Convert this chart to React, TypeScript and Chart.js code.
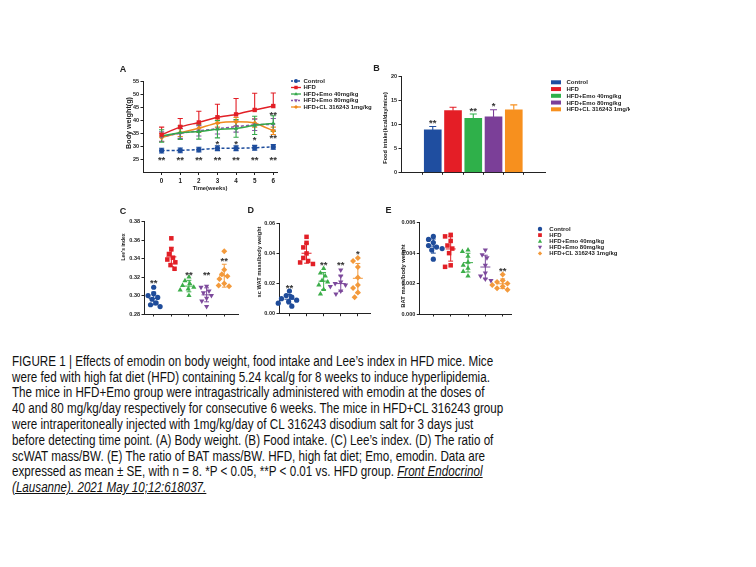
import React, { useEffect, useLayoutEffect, useRef, useState } from 'react';
import { Chart, registerables } from 'chart.js';
Chart.register(...registerables);

const FONT = '"Liberation Sans", Arial, Helvetica, sans-serif';
const INK = '#222222';
const STAR = '#333333';

// ---------- shared groups ----------
const groupNames = ['Control', 'HFD', 'HFD+Emo 40mg/kg', 'HFD+Emo 80mg/kg', 'HFD+CL 316243 1mg/kg'];
const lineColors = ['#1d4c9c', '#e21f26', '#33a84a', '#8a55a8', '#f08a1e'];
const barColors = ['#1f4ea0', '#e41e26', '#2fb04a', '#7b3f98', '#f7901e'];
const dotColors = ['#1f4c9a', '#e21f26', '#3cae4a', '#7d4a9c', '#f39a3c'];
const shapes = ['circle', 'rect', 'triangle', 'triangleDown', 'rectRot'];

// ---------- Panel A: body weight ----------
const weeks = [0, 1, 2, 3, 4, 5, 6];
const bwControl = [28.4, 28.5, 28.8, 29.3, 29.3, 29.5, 29.8];
const bwControlErr = [0.9, 0.9, 0.9, 0.9, 0.9, 0.9, 0.9];
const bwHFD = [34.5, 37.5, 39.2, 41.2, 42.3, 44.0, 45.5];
const bwHFDErr = [2.9, 3.2, 4.3, 5.0, 6.1, 6.4, 5.0];
const bwEmo40 = [34.0, 35.3, 35.7, 36.6, 36.9, 38.1, 38.8];
const bwEmo40Err = [2.4, 2.6, 2.9, 3.3, 3.4, 3.5, 3.0];
const bwEmo80 = [33.8, 35.0, 36.0, 36.8, 37.6, 38.3, 38.5];
const bwEmo80Err = [1.8, 1.9, 2.0, 2.0, 2.1, 2.2, 2.2];
const bwCL = [33.4, 35.3, 37.0, 39.0, 39.5, 39.0, 36.0];
const bwCLErr = [1.5, 1.5, 1.6, 1.6, 1.6, 1.6, 1.4];
const bwStarX = [0, 1, 2, 3, 4, 5, 6, 3, 4, 5, 6, 6];
const bwStarY = [25.8, 25.8, 25.8, 25.8, 25.8, 25.8, 25.8, 32.0, 32.0, 33.3, 43.0, 34.2];
const bwStarText = ['**', '**', '**', '**', '**', '**', '**', '*', '*', '*', '**', '**'];
const bwYTicks = [25, 30, 35, 40, 45, 50, 55];

// ---------- Panel B: food intake ----------
const fiMean = [8.8, 12.8, 11.2, 11.5, 13.0];
const fiErr = [0.7, 0.7, 0.9, 1.5, 1.0];
const fiStars = ['**', '', '**', '*', ''];
const fiYTicks = [0, 5, 10, 15, 20];

// ---------- Panel C: Lee's index ----------
const leeControl = [0.309, 0.302, 0.300, 0.298, 0.296, 0.292, 0.290, 0.288];
const leeHFD = [0.362, 0.350, 0.345, 0.341, 0.339, 0.336, 0.333, 0.329];
const leeEmo40 = [0.320, 0.316, 0.313, 0.311, 0.309, 0.307, 0.306, 0.300];
const leeEmo80 = [0.310, 0.309, 0.305, 0.303, 0.300, 0.297, 0.294, 0.288];
const leeCL = [0.348, 0.328, 0.323, 0.321, 0.318, 0.313, 0.311, 0.310];
const leeStars = ['**', '', '**', '**', '**'];
const leeStarY = [0.316, 0, 0.325, 0.325, 0.340];
const leeYTicks = [0.28, 0.30, 0.32, 0.34, 0.36, 0.38];

// ---------- Panel D: scWAT ----------
const watControl = [0.015, 0.012, 0.011, 0.010, 0.009, 0.008, 0.007, 0.005];
const watHFD = [0.051, 0.047, 0.044, 0.040, 0.037, 0.035, 0.034, 0.033];
const watEmo40 = [0.030, 0.027, 0.025, 0.022, 0.021, 0.019, 0.016, 0.013];
const watEmo80 = [0.029, 0.025, 0.021, 0.020, 0.019, 0.018, 0.015, 0.013];
const watCL = [0.037, 0.035, 0.031, 0.024, 0.019, 0.017, 0.014, 0.011];
const watStars = ['**', '', '**', '**', '*'];
const watStarY = [0.019, 0, 0.034, 0.034, 0.041];
const watYTicks = [0, 0.02, 0.04, 0.06];

// ---------- Panel E: BAT ----------
const batControl = [0.0051, 0.0049, 0.0047, 0.0045, 0.0044, 0.0043, 0.0042, 0.0036];
const batHFD = [0.0052, 0.0051, 0.0048, 0.0045, 0.0043, 0.0040, 0.0032, 0.0031];
const batEmo40 = [0.0042, 0.0041, 0.0038, 0.0034, 0.0032, 0.0030, 0.0028, 0.0025];
const batEmo80 = [0.0042, 0.0039, 0.0037, 0.0032, 0.0027, 0.0025, 0.0023, 0.0022];
const batCL = [0.0026, 0.0022, 0.0021, 0.0020, 0.0019, 0.0018, 0.0017, 0.0016];
const batStars = ['', '', '', '', '**'];
const batStarY = [0, 0, 0, 0, 0.0030];
const batYTicks = [0, 0.002, 0.004, 0.006];

const captionLines = [
  'FIGURE 1 | Effects of emodin on body weight, food intake and Lee\u2019s index in HFD mice. Mice',
  'were fed with high fat diet (HFD) containing 5.24 kcal/g for 8 weeks to induce hyperlipidemia.',
  'The mice in HFD+Emo group were intragastrically administered with emodin at the doses of',
  '40 and 80 mg/kg/day respectively for consecutive 6 weeks. The mice in HFD+CL 316243 group',
  'were intraperitoneally injected with 1mg/kg/day of CL 316243 disodium salt for 3 days just',
  'before detecting time point. (A) Body weight. (B) Food intake. (C) Lee\u2019s index. (D) The ratio of',
  'scWAT mass/BW. (E) The ratio of BAT mass/BW. HFD, high fat diet; Emo, emodin. Data are',
  'expressed as mean \u00b1 SE, with n = 8. *P < 0.05, **P < 0.01 vs. HFD group. ',
];
const captionLink1 = 'Front Endocrinol';
const captionLink2 = '(Lausanne). 2021 May 10;12:618037.';

// ---------- helpers ----------
type Box = { cl: number; ct: number; cw: number; ch: number; l: number; t: number; r: number; b: number; tx: number; ty: number; ts: number };

const mean = (a: number[]) => a.reduce((s, v) => s + v, 0) / a.length;
const sd = (a: number[]) => { const m = mean(a); return Math.sqrt(a.reduce((s, v) => s + (v - m) * (v - m), 0) / (a.length - 1)); };

function drawMarker(ctx: CanvasRenderingContext2D, shape: string, x: number, y: number, r: number, color: string) {
  ctx.save();
  ctx.fillStyle = color;
  ctx.beginPath();
  if (shape === 'circle') ctx.arc(x, y, r, 0, Math.PI * 2);
  else if (shape === 'rect') { const s = r * 0.85; ctx.rect(x - s, y - s, 2 * s, 2 * s); }
  else if (shape === 'triangle') { ctx.moveTo(x, y - r); ctx.lineTo(x + r * 0.95, y + r * 0.65); ctx.lineTo(x - r * 0.95, y + r * 0.65); ctx.closePath(); }
  else if (shape === 'triangleDown') { ctx.moveTo(x, y + r); ctx.lineTo(x + r * 0.95, y - r * 0.65); ctx.lineTo(x - r * 0.95, y - r * 0.65); ctx.closePath(); }
  else { ctx.moveTo(x, y - r); ctx.lineTo(x + r, y); ctx.lineTo(x, y + r); ctx.lineTo(x - r, y); ctx.closePath(); }
  ctx.fill();
  ctx.restore();
}

const Y_W = 20;

function yScale(min: number, max: number, ticks: number[], digits: number, size = 5.5) {
  return {
    type: 'linear', min, max,
    afterBuildTicks: (ax: any) => { ax.ticks = ticks.map((v) => ({ value: v })); },
    afterFit: (ax: any) => { ax.width = Y_W; },
    grid: { drawOnChartArea: false, drawTicks: true, tickLength: 2.5, color: INK, lineWidth: 1 },
    border: { display: true, color: INK, width: 1 },
    ticks: { autoSkip: false, callback: (v: number) => v.toFixed(digits), font: { family: FONT, size, weight: 'bold' }, color: INK, padding: 1.5 },
    title: { display: false },
  };
}

function xScale(min: number, max: number, ticks: number[], labels: boolean, title: string, height: number, size = 6.3) {
  return {
    type: 'linear', min, max,
    afterBuildTicks: (ax: any) => { ax.ticks = ticks.map((v) => ({ value: v })); },
    afterFit: (ax: any) => { ax.height = height; },
    grid: { drawOnChartArea: false, drawTicks: true, tickLength: 2.5, color: INK, lineWidth: 1 },
    border: { display: true, color: INK, width: 1 },
    ticks: { autoSkip: false, maxRotation: 0, callback: (v: number) => (labels ? String(v) : ''), font: { family: FONT, size, weight: 'bold' }, color: INK, padding: 2 },
    title: { display: !!title, text: title, font: { family: FONT, size: 5.8, weight: 'bold' }, color: INK, padding: 0 },
  };
}

function paddingFor(bx: Box, xH: number) {
  return { left: bx.l - bx.cl - Y_W, top: bx.t - bx.ct, right: bx.cl + bx.cw - bx.r, bottom: bx.ct + bx.ch - (bx.b + xH) };
}

function yTitlePlugin(bx: Box, text: string) {
  return {
    id: 'yTitle',
    afterDraw(chart: any) {
      const ctx: CanvasRenderingContext2D = chart.ctx;
      ctx.save();
      ctx.translate(bx.tx - bx.cl, bx.ty - bx.ct);
      ctx.rotate(-Math.PI / 2);
      ctx.fillStyle = INK;
      ctx.font = `bold ${bx.ts}px ${FONT}`;
      ctx.textAlign = 'center';
      ctx.textBaseline = 'middle';
      ctx.fillText(text, 0, 0);
      ctx.restore();
    },
  };
}

function starPlugin(xs: number[], ys: number[], texts: string[], size = 9.5) {
  return {
    id: 'stars',
    afterDatasetsDraw(chart: any) {
      const { ctx, scales: { x, y } } = chart;
      ctx.save();
      ctx.fillStyle = STAR;
      ctx.font = `bold ${size}px ${FONT}`;
      ctx.textAlign = 'center';
      ctx.textBaseline = 'middle';
      texts.forEach((t, i) => { if (t) ctx.fillText(t, x.getPixelForValue(xs[i]), y.getPixelForValue(ys[i]) + size * 0.3); });
      ctx.restore();
    },
  };
}

function legendPlugin(offX: number, offY: number, kind: string, items: { label: string; color: string; shape: string; dashed?: boolean }[], mx: number, tx: number, y0: number, dy: number) {
  return {
    id: 'customLegend',
    afterDraw(chart: any) {
      const ctx: CanvasRenderingContext2D = chart.ctx;
      ctx.save();
      items.forEach((it, i) => {
        const y = y0 + i * dy - offY;
        const x = mx - offX;
        if (kind === 'line') {
          ctx.strokeStyle = it.color; ctx.lineWidth = 1.3;
          ctx.setLineDash(it.dashed ? [2, 1.5] : []);
          ctx.beginPath(); ctx.moveTo(x - 5, y); ctx.lineTo(x + 5, y); ctx.stroke();
          ctx.setLineDash([]);
          drawMarker(ctx, it.shape, x, y, 2.0, it.color);
        } else if (kind === 'box') {
          ctx.fillStyle = it.color; ctx.fillRect(x - 5, y - 2, 10, 4);
        } else {
          drawMarker(ctx, it.shape, x, y, 2.2, it.color);
        }
        ctx.fillStyle = INK;
        ctx.font = `bold 6px ${FONT}`;
        ctx.textAlign = 'left';
        ctx.textBaseline = 'middle';
        ctx.fillText(it.label, tx - offX, y + 0.3);
      });
      ctx.restore();
    },
  };
}

function errPluginA(series: { ys: number[]; up: number[] | null; down: number[] | null; color: string }[]) {
  return {
    id: 'errA',
    beforeDatasetsDraw(chart: any) {
      const { ctx, scales: { x, y } } = chart;
      ctx.save(); ctx.lineWidth = 1.1;
      series.forEach((s) => {
        ctx.strokeStyle = s.color;
        weeks.forEach((w, i) => {
          const px = x.getPixelForValue(w), py = y.getPixelForValue(s.ys[i]);
          const seg = (v: number) => { const pe = y.getPixelForValue(v); ctx.beginPath(); ctx.moveTo(px, py); ctx.lineTo(px, pe); ctx.moveTo(px - 2.6, pe); ctx.lineTo(px + 2.6, pe); ctx.stroke(); };
          if (s.up) seg(s.ys[i] + s.up[i]);
          if (s.down) seg(s.ys[i] - s.down[i]);
        });
      });
      ctx.restore();
    },
  };
}

function barErrPlugin(vals: number[], errs: number[], colors: string[]) {
  return {
    id: 'barErr',
    afterDatasetsDraw(chart: any) {
      const { ctx, scales: { x, y } } = chart;
      ctx.save(); ctx.lineWidth = 1.1;
      vals.forEach((v, i) => {
        const px = x.getPixelForValue(i), py = y.getPixelForValue(v), pe = y.getPixelForValue(v + errs[i]);
        ctx.strokeStyle = colors[i];
        ctx.beginPath(); ctx.moveTo(px, py); ctx.lineTo(px, pe); ctx.moveTo(px - 3.5, pe); ctx.lineTo(px + 3.5, pe); ctx.stroke();
      });
      ctx.restore();
    },
  };
}

function statPlugin(groups: number[][], colors: string[]) {
  return {
    id: 'stat',
    afterDatasetsDraw(chart: any) {
      const { ctx, scales: { x, y } } = chart;
      ctx.save(); ctx.lineWidth = 1;
      groups.forEach((g, i) => {
        const m = mean(g), s = sd(g);
        const cx = x.getPixelForValue(i);
        const pm = y.getPixelForValue(m), pu = y.getPixelForValue(m + s), pd = y.getPixelForValue(m - s);
        ctx.strokeStyle = colors[i];
        ctx.beginPath();
        ctx.moveTo(cx - 5, pm); ctx.lineTo(cx + 5, pm);
        ctx.moveTo(cx, pu); ctx.lineTo(cx, pd);
        ctx.moveTo(cx - 2.4, pu); ctx.lineTo(cx + 2.4, pu);
        ctx.moveTo(cx - 2.4, pd); ctx.lineTo(cx + 2.4, pd);
        ctx.stroke();
      });
      ctx.restore();
    },
  };
}

// beeswarm layout of the points of one group, in x-axis units
function swarm(values: number[], yppu: number, xppu: number, r: number): number[] {
  const order = values.map((_, i) => i).sort((a, b) => values[b] - values[a]);
  const placed: { x: number; y: number }[] = [];
  const res = values.map(() => 0);
  order.forEach((i) => {
    const py = values[i] * yppu;
    let chosen = 0;
    for (let k = 0; k < 40; k++) {
      const off = k === 0 ? 0 : (k % 2 === 1 ? -1 : 1) * Math.ceil(k / 2) * 0.8;
      if (placed.every((p) => Math.hypot(p.x - off, p.y - py) >= 2 * r)) { chosen = off; break; }
    }
    placed.push({ x: chosen, y: py });
    res[i] = chosen / xppu;
  });
  return res;
}

const BOX_A: Box = { cl: 100, ct: 60, cw: 280, ch: 140, l: 143, t: 81.3, r: 277, b: 172.5, tx: 129, ty: 123, ts: 7.2 };
const BOX_B: Box = { cl: 360, ct: 60, cw: 270, ch: 140, l: 401, t: 76, r: 545, b: 172.3, tx: 385, ty: 128, ts: 5.6 };
const BOX_C: Box = { cl: 100, ct: 200, cw: 150, ch: 130, l: 144, t: 221.7, r: 238, b: 314, tx: 123.3, ty: 247, ts: 5 };
const BOX_D: Box = { cl: 245, ct: 200, cw: 135, ch: 130, l: 279, t: 223.3, r: 370, b: 313.7, tx: 259.3, ty: 262, ts: 5.7 };
const BOX_E: Box = { cl: 370, ct: 200, cw: 386, ch: 130, l: 419.3, t: 222.7, r: 511, b: 314, tx: 403.5, ty: 276, ts: 5.8 };

function baseOptions(padding: any, scales: any) {
  return {
    responsive: false, animation: false, events: [],
    layout: { padding },
    plugins: { legend: { display: false }, tooltip: { enabled: false }, title: { display: false } },
    scales,
  };
}

function scatterChart(canvas: HTMLCanvasElement, bx: Box, groups: number[][], yMin: number, yMax: number, yTicks: number[], digits: number, title: string, xMin: number, xMax: number, stars: string[], starY: number[], extra: any[] = []) {
  const xH = 10;
  const yppu = (bx.b - bx.t) / (yMax - yMin);
  const xppu = (bx.r - bx.l) / (xMax - xMin);
  const datasets = groups.map((g, i) => {
    const offs = swarm(g, yppu, xppu, 2.6);
    return {
      data: g.map((v, j) => ({ x: i + offs[j], y: v })),
      pointStyle: shapes[i] === 'triangleDown' ? 'triangle' : shapes[i],
      pointRotation: shapes[i] === 'triangleDown' ? 180 : 0,
      pointRadius: shapes[i] === 'rect' ? 3.2 : shapes[i] === 'circle' ? 2.6 : 3.0,
      backgroundColor: dotColors[i],
      borderColor: dotColors[i],
      borderWidth: 0,
      clip: false,
    };
  });
  return new Chart(canvas, {
    type: 'scatter',
    data: { datasets },
    options: baseOptions(paddingFor(bx, xH), {
      x: xScale(xMin, xMax, [0, 1, 2, 3, 4], false, '', xH),
      y: yScale(yMin, yMax, yTicks, digits),
    }) as any,
    plugins: [statPlugin(groups, dotColors), starPlugin([0, 1, 2, 3, 4], starY, stars), yTitlePlugin(bx, title), ...extra],
  });
}

export default function App() {
  const refA = useRef<HTMLCanvasElement>(null);
  const refB = useRef<HTMLCanvasElement>(null);
  const refC = useRef<HTMLCanvasElement>(null);
  const refD = useRef<HTMLCanvasElement>(null);
  const refE = useRef<HTMLCanvasElement>(null);
  const capRef = useRef<HTMLDivElement>(null);
  const [capScale, setCapScale] = useState(1);

  useLayoutEffect(() => {
    const el = capRef.current;
    if (!el) return;
    const span = el.querySelector('span') as HTMLSpanElement;
    const w = span ? span.offsetWidth : 0;
    if (w > 0) setCapScale(481 / w);
  }, []);

  useEffect(() => {
    const charts: Chart[] = [];
    // ----- A -----
    {
      const bx = BOX_A;
      const xH = 188 + 3.5 - bx.b;
      const mk = (ys: number[], i: number, dashed: boolean) => ({
        data: weeks.map((w, j) => ({ x: w, y: ys[j] })),
        borderColor: lineColors[i], backgroundColor: lineColors[i],
        borderWidth: 1.5, borderDash: dashed ? [3, 2] : [],
        pointStyle: shapes[i] === 'triangleDown' ? 'triangle' : shapes[i],
        pointRotation: shapes[i] === 'triangleDown' ? 180 : 0,
        pointRadius: shapes[i] === 'rect' ? 3.1 : 2.6, pointBorderWidth: 0,
        tension: 0.15, clip: false,
      });
      charts.push(new Chart(refA.current as HTMLCanvasElement, {
        type: 'line',
        data: { datasets: [mk(bwHFD, 1, false), mk(bwControl, 0, true), mk(bwEmo40, 2, false), mk(bwEmo80, 3, true), mk(bwCL, 4, false)] as any },
        options: baseOptions(paddingFor(bx, xH), {
          x: xScale(-1, 6.2, weeks, true, 'Time(weeks)', xH, 6.3),
          y: yScale(20, 55, bwYTicks, 0, 5.5),
        }) as any,
        plugins: [
          errPluginA([
            { ys: bwHFD, up: bwHFDErr, down: null, color: lineColors[1] },
            { ys: bwControl, up: bwControlErr, down: bwControlErr, color: lineColors[0] },
            { ys: bwCL, up: bwCLErr, down: bwCLErr, color: lineColors[4] },
            { ys: bwEmo80, up: bwEmo80Err, down: bwEmo80Err, color: lineColors[3] },
            { ys: bwEmo40, up: bwEmo40Err, down: bwEmo40Err, color: lineColors[2] },
          ]),
          starPlugin(bwStarX, bwStarY, bwStarText),
          yTitlePlugin(bx, 'Body weight(g)'),
          legendPlugin(bx.cl, bx.ct, 'line', groupNames.map((g, i) => ({ label: g, color: lineColors[i], shape: shapes[i], dashed: i === 0 || i === 3 })), 296, 303.5, 81, 6.5),
        ],
      }));
    }
    // ----- B -----
    {
      const bx = BOX_B;
      const xH = 10;
      charts.push(new Chart(refB.current as HTMLCanvasElement, {
        type: 'bar',
        data: { datasets: [{ data: fiMean.map((v, i) => ({ x: i, y: v })), backgroundColor: barColors, borderWidth: 0, barThickness: 17 }] as any },
        options: baseOptions(paddingFor(bx, xH), {
          x: xScale(-0.857, 4.83, [0, 1, 2, 3, 4], false, '', xH),
          y: yScale(0, 20, fiYTicks, 0, 5.5),
        }) as any,
        plugins: [
          barErrPlugin(fiMean, fiErr, barColors),
          starPlugin([0, 1, 2, 3, 4], fiMean.map((v, i) => v + fiErr[i] + 1.2), fiStars),
          yTitlePlugin(bx, 'Food intake(kcal/day/mice)'),
          legendPlugin(bx.cl, bx.ct, 'box', groupNames.map((g, i) => ({ label: g, color: barColors[i], shape: 'box' })), 556, 566.5, 82.3, 6.75),
        ],
      }));
    }
    // ----- C, D, E -----
    charts.push(scatterChart(refC.current as HTMLCanvasElement, BOX_C, [leeControl, leeHFD, leeEmo40, leeEmo80, leeCL], 0.28, 0.38, leeYTicks, 2, "Lee's index", -0.55, 4.78, leeStars, leeStarY));
    charts.push(scatterChart(refD.current as HTMLCanvasElement, BOX_D, [watControl, watHFD, watEmo40, watEmo80, watCL], 0, 0.06, watYTicks, 2, 'sc WAT mass/body weight', -0.61, 4.71, watStars, watStarY));
    const legE = legendPlugin(BOX_E.cl, BOX_E.ct, 'marker', groupNames.map((g, i) => ({ label: g, color: dotColors[i], shape: shapes[i] })), 540, 549.3, 229, 6.1);
    charts.push(scatterChart(refE.current as HTMLCanvasElement, BOX_E, [batControl, batHFD, batEmo40, batEmo80, batCL], 0, 0.006, batYTicks, 3, 'BAT mass/body weight', -0.81, 4.48, batStars, batStarY, [legE]));
    return () => charts.forEach((c) => c.destroy());
  }, []);

  const cv = (ref: any, bx: Box) => (
    <canvas ref={ref} width={bx.cw} height={bx.ch} style={{ position: 'absolute', left: bx.cl, top: bx.ct, width: bx.cw, height: bx.ch }} />
  );
  const label = (t: string, x: number, y: number) => (
    <div style={{ position: 'absolute', left: x - 3.5, top: y - 5.5, font: `bold 9px ${FONT}`, lineHeight: '10px', color: INK }}>{t}</div>
  );

  return (
    <div style={{ position: 'fixed', left: 0, top: 0, width: 756, height: 567, background: '#fff', overflow: 'hidden' }}>
      {cv(refA, BOX_A)}
      {cv(refB, BOX_B)}
      {cv(refC, BOX_C)}
      {cv(refD, BOX_D)}
      {cv(refE, BOX_E)}
      {label('A', 123.3, 69.3)}
      {label('B', 376.7, 68.3)}
      {label('C', 123.3, 211.7)}
      {label('D', 251, 210.7)}
      {label('E', 389, 210.7)}
      <div ref={capRef} style={{ position: 'absolute', left: 12, top: 353.8, fontFamily: '"Liberation Sans Narrow", "Arial Narrow", "Liberation Sans", Arial, sans-serif', fontSize: 14, lineHeight: '15.8px', color: '#111', transform: `scaleX(${capScale})`, transformOrigin: '0 0', whiteSpace: 'nowrap' }}>
        {captionLines.map((l, i) => (
          <div key={i}>
            <span>{l}</span>
            {i === captionLines.length - 1 ? <i style={{ textDecoration: 'underline' }}>{captionLink1}</i> : null}
          </div>
        ))}
        <div><i style={{ textDecoration: 'underline' }}>{captionLink2}</i></div>
      </div>
    </div>
  );
}
